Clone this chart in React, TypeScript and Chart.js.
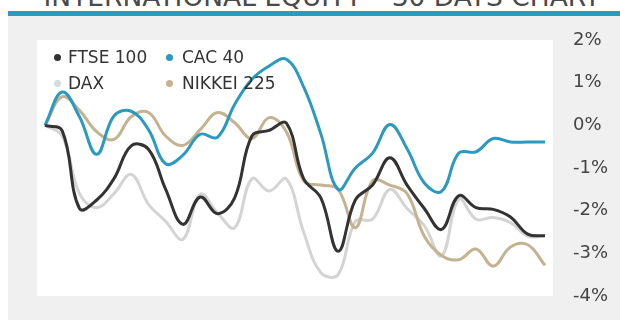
import React, { useEffect, useRef } from "react";
import { Chart, registerables } from "chart.js";

Chart.register(...registerables);

const days = ["1", "2", "3", "4", "5", "6", "7", "8", "9", "10", "11", "12", "13", "14", "15", "16", "17", "18", "19", "20", "21", "22", "23", "24", "25", "26", "27", "28", "29", "30"];

const ftse100 = [0, -0.13, -1.95, -1.75, -1.25, -0.48, -0.56, -1.5, -2.32, -1.68, -2.07, -1.7, -0.25, -0.12, 0.05, -1.25, -1.7, -2.95, -1.75, -1.4, -0.76, -1.4, -1.95, -2.44, -1.65, -1.93, -1.97, -2.15, -2.55, -2.59];
const cac40 = [0, 0.78, 0.2, -0.68, 0.22, 0.33, -0.1, -0.9, -0.7, -0.21, -0.28, 0.49, 1.08, 1.39, 1.55, 0.9, -0.2, -1.5, -1.0, -0.65, 0.02, -0.55, -1.35, -1.55, -0.65, -0.62, -0.31, -0.39, -0.39, -0.39];
const dax = [0, -0.25, -1.6, -1.93, -1.6, -1.15, -1.85, -2.25, -2.67, -1.62, -2.05, -2.4, -1.25, -1.54, -1.26, -2.5, -3.45, -3.5, -2.25, -2.2, -1.5, -1.95, -2.35, -3.06, -1.73, -2.2, -2.16, -2.28, -2.6, -2.59];
const nikkei225 = [0, 0.67, 0.35, -0.15, -0.33, 0.2, 0.3, -0.25, -0.47, -0.1, 0.3, 0.06, -0.31, 0.18, -0.15, -1.3, -1.4, -1.5, -2.4, -1.3, -1.4, -1.6, -2.6, -3.05, -3.15, -2.9, -3.3, -2.85, -2.8, -3.28];

const yTicks = [2, 1, 0, -1, -2, -3, -4];

const seriesNames = ["FTSE 100", "CAC 40", "DAX", "NIKKEI 225"];
const seriesColors = ["#333333", "#2b9ac0", "#d4d4d4", "#c5b291"];
const legendDotColors = ["#333333", "#2b9ac0", "#d6dbde", "#c5b291"];

const FONT = "'DejaVu Sans', sans-serif";

const whiteArea = {
  id: "whiteArea",
  beforeDraw(chart: any) {
    const { ctx, chartArea } = chart;
    ctx.save();
    ctx.fillStyle = "#ffffff";
    ctx.fillRect(chartArea.left - 8, chartArea.top, chartArea.right - chartArea.left + 16, chartArea.bottom - chartArea.top);
    ctx.restore();
  },
};

export default function App() {
  const ref = useRef<HTMLCanvasElement>(null);

  useEffect(() => {
    const all = [ftse100, cac40, dax, nikkei225];
    const drawOrder = [0, 1, 3, 2];
    const chart = new Chart(ref.current!, {
      type: "line",
      data: {
        labels: days,
        datasets: drawOrder.map((i) => ({
          label: seriesNames[i],
          data: all[i],
          borderColor: seriesColors[i],
          backgroundColor: seriesColors[i],
          borderWidth: 3,
          pointRadius: 0,
          tension: 0.4,
          fill: false,
        })),
      },
      options: {
        animation: false,
        responsive: false,
        maintainAspectRatio: false,
        layout: { padding: { left: 45, top: 40, bottom: 24, right: 0 } },
        plugins: { legend: { display: false }, tooltip: { enabled: false } },
        scales: {
          x: { display: false, offset: false },
          y: {
            position: "right",
            min: yTicks[yTicks.length - 1],
            max: yTicks[0],
            afterBuildTicks: (s: any) => {
              s.ticks = yTicks.map((v) => ({ value: v }));
            },
            afterFit: (s: any) => {
              s.width = 75;
            },
            ticks: {
              padding: 0,
              color: "#444444",
              font: { family: FONT, size: 18 },
              callback: (v: any) => `${v}%`,
            },
            grid: { display: false, drawTicks: true, tickLength: 28 },
            border: { display: false },
          },
        },
      },
      plugins: [whiteArea],
    });
    return () => chart.destroy();
  }, []);

  const legendPos = [
    { dx: 57, tx: 68, cy: 57 },
    { dx: 169, tx: 182, cy: 57 },
    { dx: 57, tx: 68, cy: 83 },
    { dx: 169, tx: 182, cy: 83 },
  ];

  return (
    <div style={{ position: "absolute", left: 0, top: 0, width: 620, height: 320, overflow: "hidden", background: "#ffffff" }}>
      <div
        style={{
          position: "absolute",
          left: 12,
          top: -17,
          width: 620,
          textAlign: "center",
          fontFamily: FONT,
          fontSize: 26.5,
          lineHeight: "28px",
          color: "#4a4a4a",
          whiteSpace: "nowrap",
        }}
      >
        INTERNATIONAL EQUITY – 30 DAYS CHART
      </div>
      <div style={{ position: "absolute", left: 8, top: 11, width: 612, height: 5, background: "#2b9ac0" }} />
      <div style={{ position: "absolute", left: 8, top: 16, width: 612, height: 304, background: "#f0f0f0" }} />
      <canvas ref={ref} width={620} height={320} style={{ position: "absolute", left: 0, top: 0, display: "block" }} />
      {seriesNames.map((name, i) => (
        <React.Fragment key={name}>
          <div
            style={{
              position: "absolute",
              left: legendPos[i].dx - 3.5,
              top: legendPos[i].cy - 3.5,
              width: 7,
              height: 7,
              borderRadius: "50%",
              background: legendDotColors[i],
            }}
          />
          <div
            style={{
              position: "absolute",
              left: legendPos[i].tx,
              top: legendPos[i].cy - 11,
              height: 22,
              lineHeight: "22px",
              fontFamily: FONT,
              fontSize: 17,
              color: "#333333",
              whiteSpace: "nowrap",
            }}
          >
            {name}
          </div>
        </React.Fragment>
      ))}
    </div>
  );
}
